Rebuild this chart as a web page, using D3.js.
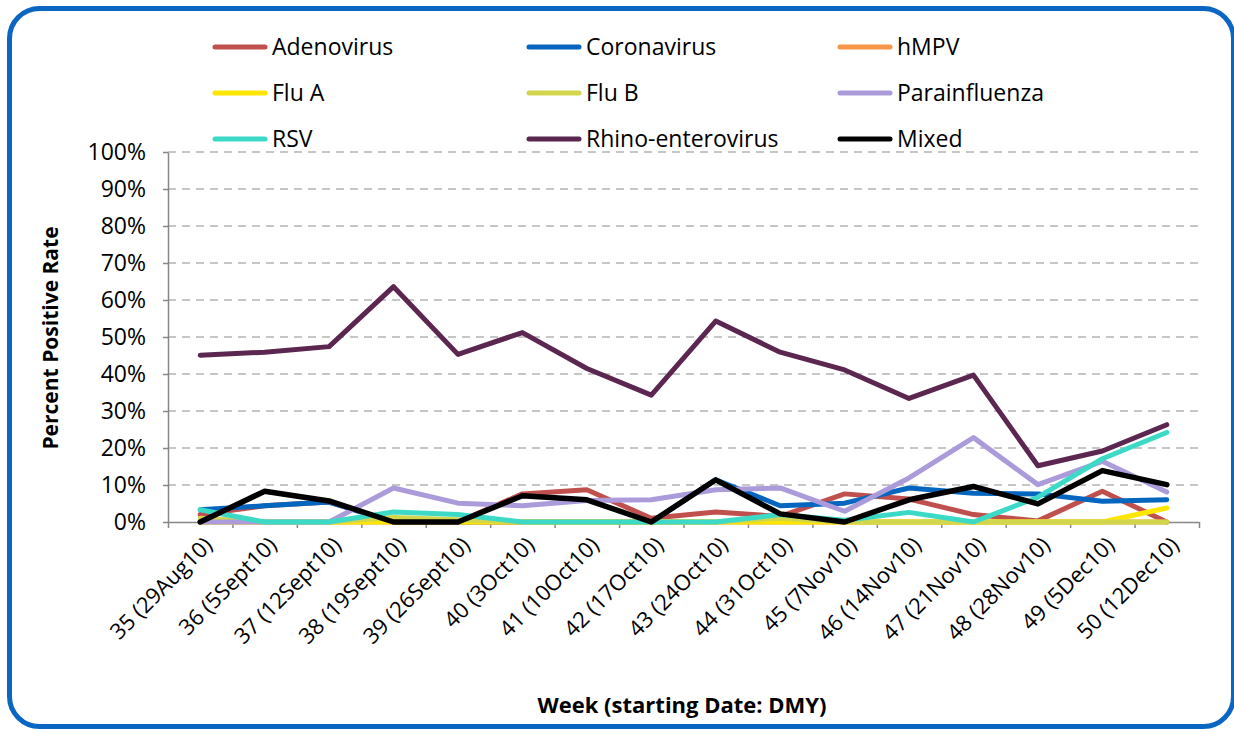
<!DOCTYPE html>
<html lang="en">
<head>
<meta charset="utf-8">
<title>Percent Positive Rate by Week</title>
<script src="https://d3js.org/d3.v7.min.js"></script>
<style>
  body { margin: 0; background: #fff; }
  text { font-family: "Open Sans", "DejaVu Sans", sans-serif; fill: #000; }
</style>
</head>
<body>
<script>
// Data (percent positive)
const weeks = ["35 (29Aug10)", "36 (5Sept10)", "37 (12Sept10)", "38 (19Sept10)", "39 (26Sept10)",
  "40 (3Oct10)", "41 (10Oct10)", "42 (17Oct10)", "43 (24Oct10)", "44 (31Oct10)", "45 (7Nov10)",
  "46 (14Nov10)", "47 (21Nov10)", "48 (28Nov10)", "49 (5Dec10)", "50 (12Dec10)"];

const adenovirus    = [2.0, 4.4, 5.4, 0, 0, 7.6, 8.7, 1.0, 2.7, 1.5, 7.6, 6.2, 2.0, 0.3, 8.3, 0];
const coronavirus   = [3.3, 4.4, 5.4, 0, 0, 0, 0, 0, 11.4, 4.4, 5.1, 9.2, 7.8, 7.6, 5.6, 6.0];
const hmpv          = [0, 0, 0, 0, 0, 0, 0, 0, 0, 0, 0, 0, 0, 0, 0, 0];
const fluA          = [0, 0, 0, 0, 0, 0, 0, 0, 0, 0, 0, 0, 0, 0, 0, 3.8];
const fluB          = [1.0, 0, 0, 1.2, 0.6, 0, 0, 0, 0, 1.0, 0, 0, 0, 0, 0, 0];
const parainfluenza = [0, 0, 0, 9.2, 5.1, 4.4, 5.8, 6.0, 8.7, 9.2, 2.9, 11.9, 22.8, 10.1, 16.4, 8.1];
const rsv           = [3.3, 0, 0, 2.7, 2.0, 0, 0, 0, 0, 2.0, 0.5, 2.6, 0, 6.7, 17.1, 24.2];
const rhino         = [45.1, 45.9, 47.4, 63.6, 45.3, 51.2, 41.5, 34.3, 54.3, 45.9, 41.1, 33.4, 39.7, 15.2, 19.2, 26.3];
const mixed         = [0, 8.3, 5.7, 0, 0, 7.1, 6.0, 0, 11.4, 2.2, 0, 6.0, 9.6, 4.9, 13.9, 10.1];

const seriesNames = ["Adenovirus", "Coronavirus", "hMPV", "Flu A", "Flu B", "Parainfluenza", "RSV", "Rhino-enterovirus", "Mixed"];
const seriesValues = [adenovirus, coronavirus, hmpv, fluA, fluB, parainfluenza, rsv, rhino, mixed];
const seriesColors = ["#C0504D", "#0566C0", "#F79646", "#FFE600", "#D1D64C", "#AB9BDB", "#3DD9C7", "#5B2650", "#000000"];
const yTicks = [0, 10, 20, 30, 40, 50, 60, 70, 80, 90, 100];

// Constants
const w = 1234, h = 733;
const plotLeft = 168, plotRight = 1199, plotTop = 152, plotBottom = 522;

const svg = d3.select("body").append("svg")
  .attr("width", w)
  .attr("height", h);

// frame
svg.append("rect")
  .attr("x", 9.5).attr("y", 8.5)
  .attr("width", 1224).attr("height", 718)
  .attr("rx", 30).attr("ry", 30)
  .attr("fill", "none")
  .attr("stroke", "#0A66C2")
  .attr("stroke-width", 5);

// scales
const xIdx = d3.scaleLinear().domain([0, weeks.length]).range([plotLeft, plotRight]);
const yScale = d3.scaleLinear().domain([0, 100]).range([plotBottom, plotTop]);

// gridlines
svg.append("g")
  .selectAll("line")
  .data(yTicks.filter(d => d > 0))
  .enter()
  .append("line")
  .attr("x1", plotLeft).attr("x2", plotRight)
  .attr("y1", d => yScale(d)).attr("y2", d => yScale(d))
  .attr("stroke", "#B4B4B4")
  .attr("stroke-width", 1.6)
  .attr("stroke-dasharray", "8,6");

// left axis
const leftAxis = d3.axisLeft(yScale)
  .tickValues(yTicks)
  .tickFormat(d => d + "%")
  .tickSize(5)
  .tickSizeOuter(0)
  .tickPadding(17);

const gy = svg.append("g")
  .attr("transform", "translate(" + plotLeft + ",0)")
  .call(leftAxis);
gy.selectAll("path, line").attr("stroke", "#878787").attr("stroke-width", 1.5);
gy.selectAll("text").attr("font-size", "23px").attr("font-family", "Open Sans");

// bottom axis (ticks on category boundaries)
const bottomAxis = d3.axisBottom(xIdx)
  .tickValues(d3.range(0, weeks.length + 1))
  .tickFormat("")
  .tickSize(6)
  .tickSizeOuter(0);

const gx = svg.append("g")
  .attr("transform", "translate(0," + plotBottom + ")")
  .call(bottomAxis);
gx.selectAll("path, line").attr("stroke", "#878787").attr("stroke-width", 1.5);

// category labels
svg.append("g")
  .selectAll("text")
  .data(weeks)
  .enter()
  .append("text")
  .attr("transform", (d, i) => "translate(" + (xIdx(i + 0.5) + 8) + "," + (plotBottom + 19) + ") rotate(-45)")
  .attr("text-anchor", "end")
  .attr("dy", "0.35em")
  .attr("font-size", "22px")
  .text(d => d);

// lines
const line = d3.line()
  .x((d, i) => xIdx(i + 0.5))
  .y(d => yScale(d));

svg.append("g")
  .selectAll("path")
  .data(seriesValues)
  .enter()
  .append("path")
  .attr("d", d => line(d))
  .attr("fill", "none")
  .attr("stroke", (d, i) => seriesColors[i])
  .attr("stroke-width", (d, i) => i === 8 ? 5.5 : 5)
  .attr("stroke-linejoin", "round")
  .attr("stroke-linecap", "round");

// legend
const legendCols = [213, 527, 838];
const legendRows = [47, 93, 139];
const legend = svg.append("g")
  .selectAll("g")
  .data(seriesNames)
  .enter()
  .append("g")
  .attr("transform", (d, i) => "translate(" + legendCols[i % 3] + "," + legendRows[Math.floor(i / 3)] + ")");

legend.append("line")
  .attr("x1", 2).attr("x2", 52)
  .attr("y1", 0).attr("y2", 0)
  .attr("stroke", (d, i) => seriesColors[i])
  .attr("stroke-width", 5)
  .attr("stroke-linecap", "round");

legend.append("text")
  .attr("x", 59)
  .attr("y", 0)
  .attr("dy", "0.35em")
  .attr("font-size", "23px")
  .text(d => d);

// axis titles
svg.append("text")
  .attr("x", 682)
  .attr("y", 713)
  .attr("text-anchor", "middle")
  .attr("font-size", "22px")
  .attr("font-weight", "bold")
  .text("Week (starting Date: DMY)");

svg.append("text")
  .attr("transform", "translate(58,338) rotate(-90)")
  .attr("text-anchor", "middle")
  .attr("font-size", "21px")
  .attr("font-weight", "bold")
  .text("Percent Positive Rate");
</script>
</body>
</html>
